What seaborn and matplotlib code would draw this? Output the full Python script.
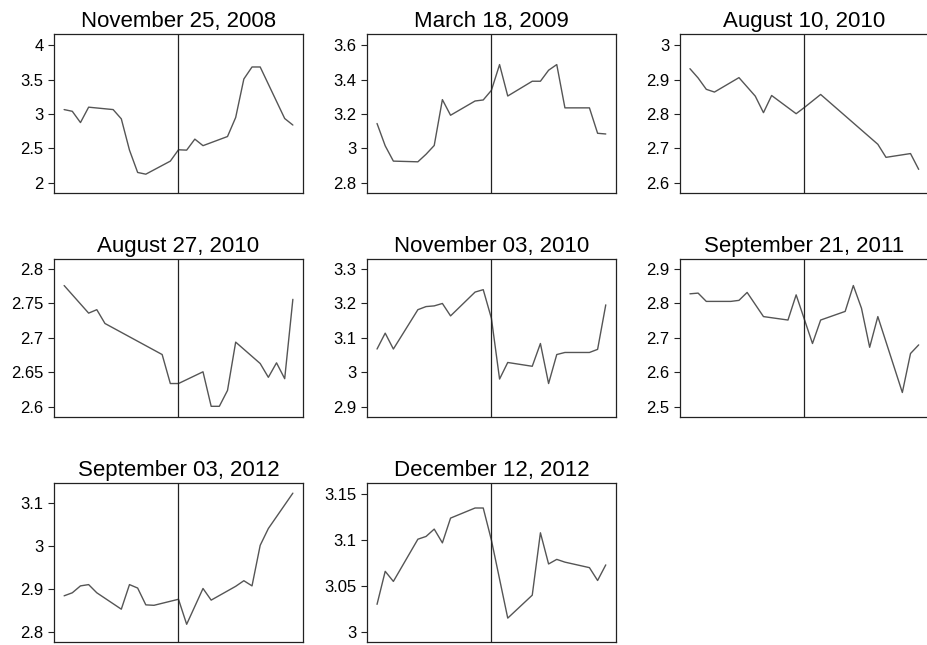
import pandas as pd
import matplotlib
matplotlib.use("Agg")
import matplotlib.pyplot as plt
import seaborn as sns
from matplotlib.ticker import FuncFormatter

# event dates (panel titles)
titles = ['November 25, 2008', 'March 18, 2009', 'August 10, 2010',
          'August 27, 2010', 'November 03, 2010', 'September 21, 2011',
          'September 03, 2012', 'December 12, 2012']

# calendar days relative to the event, and the series value
days_1 = [-14, -13, -12, -11, -8, -7, -6, -5, -4, -1, 0, 1, 2, 3, 6, 7, 8, 9, 10, 13, 14]
vals_1 = [3.065, 3.04, 2.876, 3.10, 3.065, 2.93, 2.475, 2.15, 2.125, 2.315, 2.48,
          2.475, 2.635, 2.54, 2.673, 2.95, 3.51, 3.685, 3.685, 2.935, 2.84]

days_2 = [-14, -13, -12, -9, -8, -7, -6, -5, -2, -1, 0, 1, 2, 5, 6, 7, 8, 9, 12, 13, 14]
vals_2 = [3.145, 3.015, 2.926, 2.922, 2.966, 3.017, 3.284, 3.193, 3.276, 3.282, 3.338,
          3.488, 3.305, 3.391, 3.391, 3.455, 3.488, 3.236, 3.236, 3.088, 3.084]

days_3 = [-14, -13, -12, -11, -8, -7, -6, -5, -4, -1, 0, 2, 9, 10, 13, 14]
vals_3 = [2.932, 2.905, 2.872, 2.864, 2.906, 2.879, 2.852, 2.804, 2.854, 2.801, 2.819,
          2.857, 2.712, 2.674, 2.685, 2.639]

days_4 = [-14, -11, -10, -9, -2, -1, 0, 3, 4, 5, 6, 7, 10, 11, 12, 13, 14]
vals_4 = [2.776, 2.736, 2.741, 2.721, 2.676, 2.634, 2.634, 2.651, 2.601, 2.601, 2.624,
          2.694, 2.663, 2.643, 2.664, 2.641, 2.756]

days_5 = [-14, -13, -12, -9, -8, -7, -6, -5, -2, -1, 0, 1, 2, 5, 6, 7, 8, 9, 12, 13, 14]
vals_5 = [3.068, 3.114, 3.068, 3.182, 3.191, 3.193, 3.200, 3.164, 3.233, 3.240, 3.157,
          2.981, 3.029, 3.018, 3.084, 2.968, 3.052, 3.058, 3.058, 3.067, 3.196]

days_6 = [-14, -13, -12, -9, -8, -7, -5, -2, -1, 1, 2, 5, 6, 7, 8, 9, 12, 13, 14]
vals_6 = [2.828, 2.830, 2.806, 2.806, 2.809, 2.832, 2.762, 2.752, 2.825, 2.684, 2.752,
          2.777, 2.852, 2.786, 2.673, 2.762, 2.542, 2.655, 2.680]

days_7 = [-14, -13, -12, -11, -10, -7, -6, -5, -4, -3, 0, 1, 3, 4, 7, 8, 9, 10, 11, 14]
vals_7 = [2.884, 2.891, 2.907, 2.910, 2.891, 2.853, 2.910, 2.902, 2.863, 2.862, 2.876,
          2.818, 2.901, 2.874, 2.906, 2.919, 2.907, 3.001, 3.040, 3.122]

days_8 = [-14, -13, -12, -9, -8, -7, -6, -5, -2, -1, 0, 2, 5, 6, 7, 8, 9, 12, 13, 14]
vals_8 = [3.030, 3.066, 3.055, 3.101, 3.104, 3.112, 3.097, 3.124, 3.135, 3.135, 3.100,
          3.015, 3.040, 3.108, 3.074, 3.079, 3.076, 3.070, 3.056, 3.073]

# y axis ticks and limits for each panel
yticks = [[2, 2.5, 3, 3.5, 4], [2.8, 3, 3.2, 3.4, 3.6], [2.6, 2.7, 2.8, 2.9, 3],
          [2.6, 2.65, 2.7, 2.75, 2.8], [2.9, 3, 3.1, 3.2, 3.3], [2.5, 2.6, 2.7, 2.8, 2.9],
          [2.8, 2.9, 3, 3.1], [3, 3.05, 3.1, 3.15]]
ylims = [(1.855, 4.165), (2.742, 3.666), (2.571, 3.033), (2.585, 2.815),
         (2.870, 3.330), (2.470, 2.930), (2.777, 3.145), (2.989, 3.162)]

all_days = [days_1, days_2, days_3, days_4, days_5, days_6, days_7, days_8]
all_vals = [vals_1, vals_2, vals_3, vals_4, vals_5, vals_6, vals_7, vals_8]

sns.set_theme(style="white")
plt.rcParams['font.family'] = ['Liberation Sans', 'DejaVu Sans']
plt.rcParams['text.color'] = 'black'
plt.rcParams['ytick.labelcolor'] = 'black'

fig, axes = plt.subplots(3, 3, figsize=(9.27, 6.45), dpi=100)
fig.subplots_adjust(left=0.0586, right=1.0016, top=0.9473, bottom=0.0047,
                    wspace=0.26, hspace=0.415)

for i, ax in enumerate(axes.flat):
    if i >= len(titles):
        ax.axis('off')
        continue
    df = pd.DataFrame({'day': all_days[i], 'value': all_vals[i]})
    sns.lineplot(data=df, x='day', y='value', ax=ax, color='#555555', linewidth=1.0)
    ax.axvline(0, color='#222222', linewidth=0.9)
    ax.set_xlim(-15.2, 15.2)
    ax.set_ylim(*ylims[i])
    ax.set_yticks(yticks[i])
    ax.yaxis.set_major_formatter(FuncFormatter(lambda v, p: '%g' % v))
    ax.set_xticks([])
    ax.set_xlabel('')
    ax.set_ylabel('')
    ax.set_title(titles[i], fontsize=16, pad=5, color='black')
    ax.tick_params(axis='y', left=True, length=4.3, width=0.8, pad=3.5,
                   labelsize=12, color='#222222', labelcolor='black')
    for s in ax.spines.values():
        s.set_color('#222222')
        s.set_linewidth(0.9)

plt.savefig('out.png', dpi=100)
